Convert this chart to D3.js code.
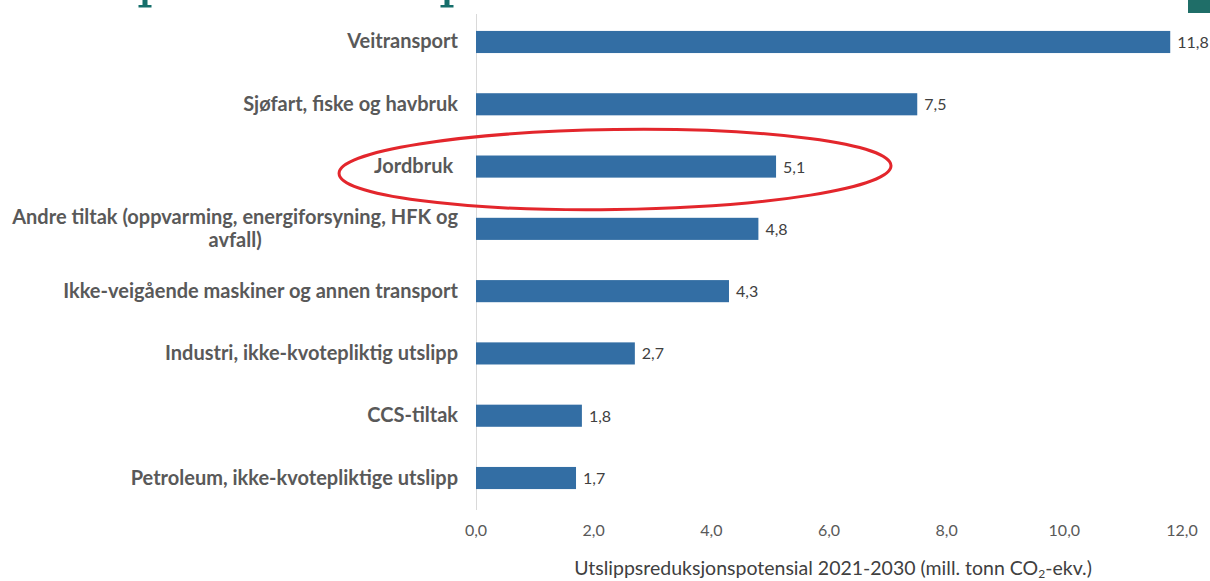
<!DOCTYPE html>
<html><head><meta charset="utf-8">
<script src="https://cdn.jsdelivr.net/npm/d3@7"></script>
<style>html,body{margin:0;padding:0;background:#fff;overflow:hidden}</style>
</head><body>
<svg id="c" width="1210" height="581"></svg>
<script>
const categories = [
  ["Veitransport"],
  ["Sjøfart, fiske og havbruk"],
  ["Jordbruk"],
  ["Andre tiltak (oppvarming, energiforsyning, HFK og", "avfall)"],
  ["Ikke-veigående maskiner og annen transport"],
  ["Industri, ikke-kvotepliktig utslipp"],
  ["CCS-tiltak"],
  ["Petroleum, ikke-kvotepliktige utslipp"]
];
const values = [11.8, 7.5, 5.1, 4.8, 4.3, 2.7, 1.8, 1.7];
const xTicks = [0, 2, 4, 6, 8, 10, 12];
const axisTitle = "Utslippsreduksjonspotensial 2021-2030 (mill. tonn CO";
const highlighted = "Jordbruk";

const svg = d3.select("#c");
const fmt = v => v.toFixed(1).replace(".", ",");

const x = d3.scaleLinear().domain([0, 12]).range([476, 1182]);
const y = d3.scaleBand().domain(d3.range(categories.length)).range([11, 509]).paddingInner(0.645).paddingOuter(0.32);

// cropped title fragments (descender feet) & corner square
const teal = "#156e6b";
[145, 447].forEach(cx => {
  svg.append("rect").attr("x", cx - 2.5).attr("y", 0).attr("width", 5).attr("height", 6).attr("fill", teal);
  svg.append("rect").attr("x", cx - 6.5).attr("y", 5).attr("width", 13).attr("height", 2.5).attr("fill", teal);
});
svg.append("rect").attr("x", 1188).attr("y", 0).attr("width", 22).attr("height", 13).attr("fill", "#1f6e68");

// axis line
svg.append("line").attr("x1", 476.5).attr("x2", 476.5).attr("y1", 14).attr("y2", 510)
  .attr("stroke", "#d9d9d9").attr("stroke-width", 1);

// bars
svg.selectAll("rect.bar").data(values).join("rect").attr("class", "bar")
  .attr("x", x(0)).attr("y", (d, i) => y(i)).attr("width", d => x(d) - x(0)).attr("height", y.bandwidth())
  .attr("fill", "#336ea4");

// value labels
svg.selectAll("text.val").data(values).join("text").attr("class", "val")
  .attr("x", d => x(d) + 7).attr("y", (d, i) => y(i) + y.bandwidth() / 2 + 6)
  .attr("font-family", "Lato").attr("font-size", 16).attr("fill", "#404040").text(fmt);

// category labels
const labelRight = 458;
categories.forEach((lines, i) => {
  const cy = y(i) + y.bandwidth() / 2;
  const g = svg.append("g");
  const n = lines.length;
  const ts = lines.map((l, k) => g.append("text")
    .style("white-space", "pre")
    .attr("font-family", "Lato").attr("font-weight", "bold").attr("font-size", 20).attr("fill", "#595959")
    .attr("y", cy + 6.5 + (k - (n - 1) / 2) * 23).text(l + (lines[0] === highlighted ? " " : "")));
  const widths = ts.map(t => t.node().getComputedTextLength());
  const maxW = d3.max(widths);
  const center = labelRight - maxW / 2;
  ts.forEach(t => t.attr("x", center).attr("text-anchor", "middle"));
});

// x tick labels
svg.selectAll("text.tick").data(xTicks).join("text").attr("class", "tick")
  .attr("x", d => x(d)).attr("y", 536).attr("text-anchor", "middle")
  .attr("font-family", "Lato").attr("font-size", 16).attr("fill", "#595959").text(fmt);

// axis title
const at = svg.append("text").attr("x", 833).attr("y", 575).attr("text-anchor", "middle")
  .attr("font-family", "Lato").attr("font-size", 19.5).attr("fill", "#404040");
at.append("tspan").text(axisTitle);
at.append("tspan").attr("font-size", 12).attr("dy", 3).text("2");
at.append("tspan").attr("dy", -3).text("-ekv.)");

// highlight ellipse
const hi = categories.findIndex(c => c[0] === highlighted);
svg.append("ellipse").attr("cx", 615).attr("cy", y(hi) + y.bandwidth() / 2 + 3).attr("rx", 276).attr("ry", 40)
  .attr("fill", "none").attr("stroke", "#e3262c").attr("stroke-width", 3)
  .attr("transform", `rotate(-0.8 615 ${y(hi) + y.bandwidth() / 2})`);
</script>
</body></html>
